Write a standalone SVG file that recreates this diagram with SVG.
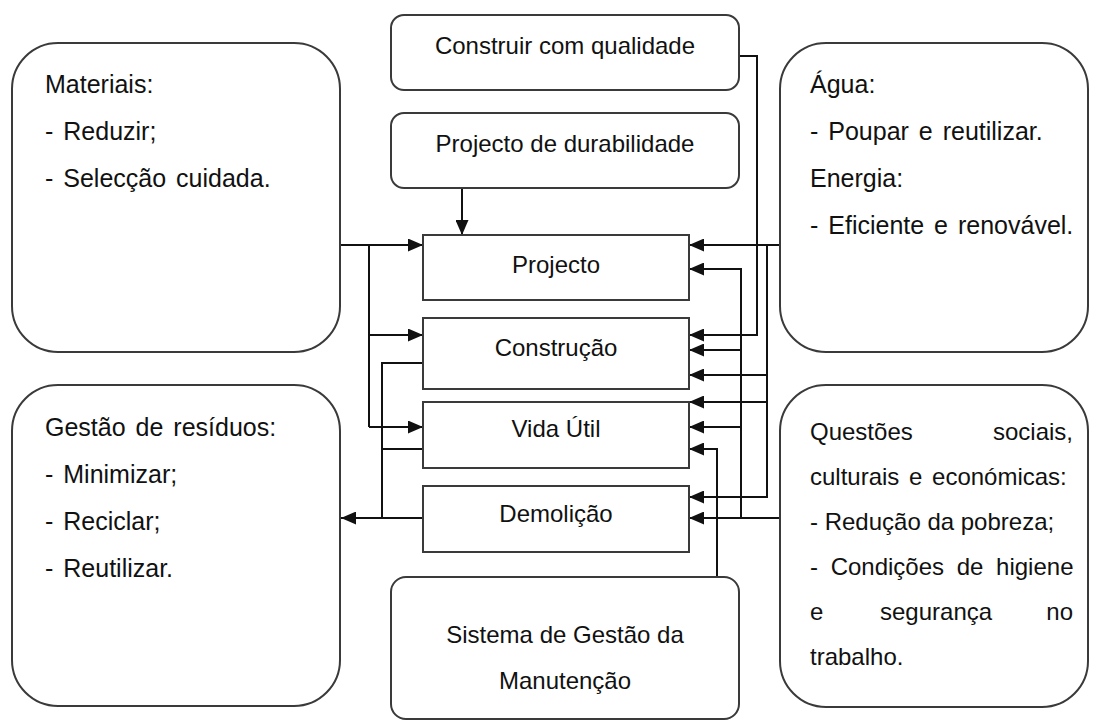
<svg xmlns="http://www.w3.org/2000/svg" width="1096" height="722" viewBox="0 0 1096 722">
<defs>
<style>
.box{fill:#fff;stroke:#3a3a3a;stroke-width:2}
.c{fill:none;stroke:#111;stroke-width:2}
.t{font-family:"Liberation Sans",Arial,sans-serif;font-size:24px;fill:#111}
.s{font-size:25px;word-spacing:3px}
.m{text-anchor:middle}
</style>
<marker id="ah" viewBox="0 0 15 13" refX="15" refY="6.5" markerWidth="15" markerHeight="13" markerUnits="userSpaceOnUse" orient="auto">
<path d="M0,0 L15,6.5 L0,13 Z" fill="#111"/>
</marker>
</defs>
<rect width="1096" height="722" fill="#fff"/>

<g id="connectors">
<path class="c" d="M340,245 H423" marker-end="url(#ah)"/>
<path class="c" d="M369,245 V427"/>
<path class="c" d="M369,335 H423" marker-end="url(#ah)"/>
<path class="c" d="M369,427 H423" marker-end="url(#ah)"/>
<path class="c" d="M423,363 H382 V518"/>
<path class="c" d="M423,449 H382"/>
<path class="c" d="M423,518 H341" marker-end="url(#ah)"/>
<path class="c" d="M462,188 V235" marker-end="url(#ah)"/>
<path class="c" d="M739,56 H757 V335 H689" marker-end="url(#ah)"/>
<path class="c" d="M780,245 H689" marker-end="url(#ah)"/>
<path class="c" d="M767,245 V497 H689" marker-end="url(#ah)"/>
<path class="c" d="M767,375 H689" marker-end="url(#ah)"/>
<path class="c" d="M767,402 H689" marker-end="url(#ah)"/>
<path class="c" d="M780,518 H689" marker-end="url(#ah)"/>
<path class="c" d="M741,518 V269 H689" marker-end="url(#ah)"/>
<path class="c" d="M741,350 H689" marker-end="url(#ah)"/>
<path class="c" d="M741,427 H689" marker-end="url(#ah)"/>
<path class="c" d="M717,577 V449 H689" marker-end="url(#ah)"/>
</g>

<g id="materiais">
<rect class="box" x="12" y="43" width="328" height="309" rx="46" ry="46"/>
<text class="t s" x="45" y="93">Materiais:</text>
<text class="t s" x="45" y="140">- Reduzir;</text>
<text class="t s" x="45" y="187">- Selecção cuidada.</text>
</g>

<g id="agua">
<rect class="box" x="780" y="43" width="308" height="309" rx="46" ry="46"/>
<text class="t s" x="810" y="93">Água:</text>
<text class="t s" x="810" y="140">- Poupar e reutilizar.</text>
<text class="t s" x="810" y="187">Energia:</text>
<text class="t s" x="810" y="234">- Eficiente e renovável.</text>
</g>

<g id="gestao-residuos">
<rect class="box" x="12" y="385" width="328" height="321" rx="46" ry="46"/>
<text class="t s" x="45" y="436">Gestão de resíduos:</text>
<text class="t s" x="45" y="483">- Minimizar;</text>
<text class="t s" x="45" y="530">- Reciclar;</text>
<text class="t s" x="45" y="577">- Reutilizar.</text>
</g>

<g id="questoes">
<rect class="box" x="780" y="385" width="308" height="322" rx="46" ry="46"/>
<text class="t" x="810" y="440">Questões</text>
<text class="t" x="1073" y="440" text-anchor="end">sociais,</text>
<text class="t" x="810" y="485" word-spacing="3">culturais e económicas:</text>
<text class="t" x="810" y="530">- Redução da pobreza;</text>
<text class="t" x="810" y="575" word-spacing="6">- Condições de higiene</text>
<text class="t" x="810" y="620">e</text>
<text class="t" x="880" y="620">segurança</text>
<text class="t" x="1073" y="620" text-anchor="end">no</text>
<text class="t" x="810" y="665">trabalho.</text>
</g>

<g id="construir">
<rect class="box" x="391" y="15" width="348" height="75" rx="13" ry="13"/>
<text class="t m" x="565" y="54">Construir com qualidade</text>
</g>

<g id="durabilidade">
<rect class="box" x="391" y="113" width="348" height="75" rx="13" ry="13"/>
<text class="t m" x="565" y="152">Projecto de durabilidade</text>
</g>

<g id="projecto">
<rect class="box" x="423" y="235" width="266" height="65"/>
<text class="t m" x="556" y="273">Projecto</text>
</g>

<g id="construcao">
<rect class="box" x="423" y="318" width="266" height="71"/>
<text class="t m" x="556" y="356">Construção</text>
</g>

<g id="vida-util">
<rect class="box" x="423" y="402" width="266" height="66"/>
<text class="t m" x="556" y="437">Vida Útil</text>
</g>

<g id="demolicao">
<rect class="box" x="423" y="486" width="266" height="66"/>
<text class="t m" x="556" y="522">Demolição</text>
</g>

<g id="sistema">
<rect class="box" x="391" y="577" width="348" height="142" rx="15" ry="15"/>
<text class="t m" x="565" y="643">Sistema de Gestão da</text>
<text class="t m" x="565" y="689">Manutenção</text>
</g>
</svg>
